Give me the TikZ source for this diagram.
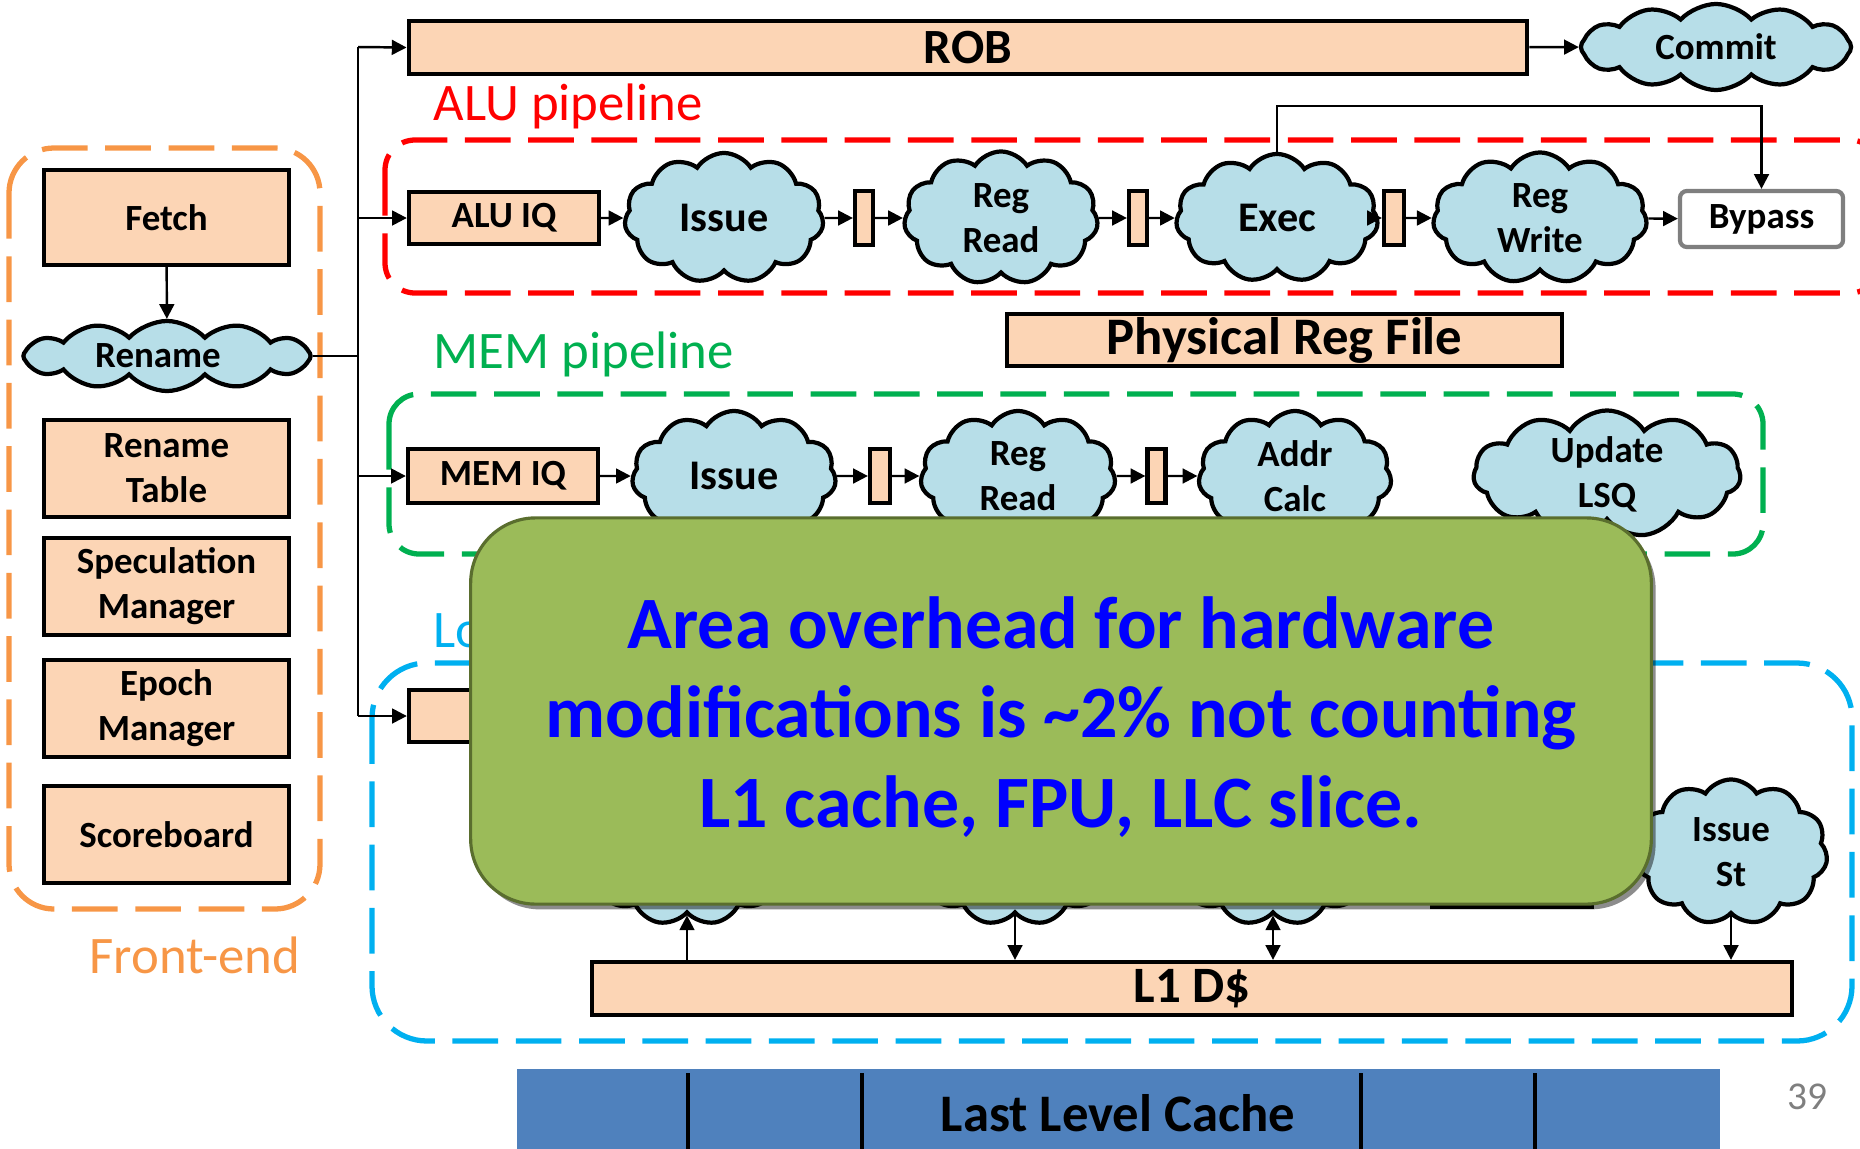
\documentclass[tikz,border=0pt]{standalone}
\usepackage{fontspec}
\setmainfont{Carlito}
\usetikzlibrary{shapes.symbols,arrows.meta,shadows}

\definecolor{peach}{HTML}{FCD5B5}
\definecolor{cloudblue}{HTML}{B7DEE8}
\definecolor{feorange}{HTML}{F79646}
\definecolor{alured}{HTML}{FF0000}
\definecolor{memgreen}{HTML}{00B050}
\definecolor{lsqblue}{HTML}{00B0F0}
\definecolor{notegreen}{HTML}{9BBB59}
\definecolor{noteedge}{HTML}{5A6E2E}
\definecolor{notetext}{HTML}{0000FF}
\definecolor{llcblue}{HTML}{4F81BD}
\definecolor{pagegray}{HTML}{7F7F7F}

\tikzset{
  unitbox/.style={draw=black, line width=1.2pt, fill=peach, inner sep=0pt,
    align=center, font=\bfseries\fontsize{10.5}{12.8}\selectfont},
  latchbox/.style={draw=black, line width=1.2pt, fill=peach, inner sep=0pt,
    minimum width=0.18cm, minimum height=0.54cm},
  stage/.style={cloud, cloud puffs=11, cloud puff arc=115, cloud ignores aspect,
    draw=black, line width=1.2pt, fill=cloudblue, inner sep=0pt},
  flatstage/.style={stage, cloud puffs=12, cloud puff arc=95},
  stagetxt/.style={align=center, inner sep=0pt, font=\bfseries\fontsize{10.5}{12.8}\selectfont},
  stagetxtbig/.style={align=center, inner sep=0pt, font=\bfseries\fontsize{12}{14}\selectfont},
  arr/.style={line width=0.7pt, -{Triangle[length=4.2pt,width=4.2pt]}},
  biarr/.style={line width=0.7pt, {Triangle[length=4.2pt,width=4.2pt]}-{Triangle[length=4.2pt,width=4.2pt]}},
  grpframe/.style={line width=1.5pt, dash pattern=on 13pt off 5pt},
  grplabel/.style={inner sep=0pt, anchor=base west, font=\fontsize{15}{18}\selectfont},
}

\begin{document}
\begin{tikzpicture}[x=0.01cm, y=-0.01cm]
\useasboundingbox (0,0) rectangle (1860,1148);

% ---- dashed group frames ----
\draw[grpframe, feorange, rounded corners=0.45cm] (9,148) rectangle (320,909);
\draw[grpframe, alured, rounded corners=0.30cm] (385,140) rectangle (1880,293);
\draw[grpframe, memgreen, rounded corners=0.30cm] (389,394) rectangle (1763,554);
\draw[grpframe, lsqblue, rounded corners=0.55cm] (372,663) rectangle (1852,1041);

% ---- group labels ----
\node[grplabel, text=alured] (alulbl) at (433,120) {ALU pipeline};
\node[grplabel, text=memgreen] (memlbl) at (433,368) {MEM pipeline};
\node[grplabel, text=lsqblue] (lsqlbl) at (433,647) {Load/Store pipeline};
\node[grplabel, text=feorange] (felbl) at (89,973) {Front-end};

% ---- front-end ----
\node[unitbox, minimum width=2.45cm, minimum height=0.95cm] (fetch) at (166.5,217.5) {Fetch};
\node[flatstage, minimum width=2.87cm, minimum height=0.70cm] (rename) at (167,356) {};
\node[stagetxt] (renametxt) at (158,356) {Rename};
\node[unitbox, minimum width=2.45cm, minimum height=0.97cm] (rtable) at (166.5,468.5) {Rename\\Table};
\node[unitbox, minimum width=2.45cm, minimum height=0.97cm] (specmgr) at (166.5,586.5) {Speculation\\Manager};
\node[unitbox, minimum width=2.45cm, minimum height=0.97cm] (epochmgr) at (166.5,708.5) {Epoch\\Manager};
\node[unitbox, minimum width=2.45cm, minimum height=0.97cm] (scoreboard) at (166.5,834.5) {Scoreboard};
\draw[arr] (fetch) -- (rename);

% ---- ROB and commit ----
\node[unitbox, minimum width=11.18cm, minimum height=0.53cm,
      font=\bfseries\fontsize{14}{16}\selectfont] (rob) at (968,47.5) {ROB};
\node[flatstage, minimum width=2.70cm, minimum height=0.86cm,
      label={[stagetxt]center:Commit}] (commit) at (1716,47) {};
\draw[arr] (rob) -- (commit);

% ---- ALU pipeline ----
\node[unitbox, minimum width=1.90cm, minimum height=0.52cm] (aluiq) at (504,218) {ALU IQ};
\node[stage, minimum width=1.99cm, minimum height=1.30cm,
      label={[stagetxtbig]center:Issue}] (aissue) at (724,218) {};
\node[latchbox] (al1) at (864,218) {};
\node[stage, minimum width=1.94cm, minimum height=1.33cm,
      label={[stagetxt]center:Reg\\Read}] (aread) at (1001,218) {};
\node[latchbox] (al2) at (1138,218) {};
\node[stage, minimum width=2.02cm, minimum height=1.28cm,
      label={[stagetxtbig]center:Exec}] (aexec) at (1277,218) {};
\node[latchbox, minimum width=0.20cm] (al3) at (1394,218) {};
\node[stage, minimum width=2.14cm, minimum height=1.31cm,
      label={[stagetxt]center:Reg\\Write}] (awrite) at (1540,218) {};
\node[draw=pagegray, line width=1.2pt, fill=white, rounded corners=0.07cm,
      minimum width=1.63cm, minimum height=0.56cm, inner sep=0pt,
      font=\bfseries\fontsize{10.5}{12.8}\selectfont] (bypass) at (1761.5,219) {Bypass};
\draw[arr] (aluiq) -- (aissue);
\draw[arr] (aissue) -- (al1);
\draw[arr] (al1) -- (aread);
\draw[arr] (aread) -- (al2);
\draw[arr] (al2) -- (aexec);
\draw[arr] (aexec) -- (al3);
\draw[arr] (al3) -- (awrite);
\draw[arr] (awrite) -- (bypass);
\coordinate (fbtop) at (1276,106);
\draw[arr] (aexec.north) -- (aexec.north |- fbtop) -| (bypass.north);

\node[unitbox, minimum width=5.55cm, minimum height=0.52cm,
      font=\bfseries\fontsize{15}{17}\selectfont] (prf) at (1284.5,340) {Physical Reg File};

% ---- MEM pipeline ----
\node[unitbox, minimum width=1.90cm, minimum height=0.54cm] (memiq) at (503,476) {MEM IQ};
\node[stage, minimum width=2.04cm, minimum height=1.30cm,
      label={[stagetxtbig]center:Issue}] (missue) at (734,476) {};
\node[latchbox, minimum width=0.20cm] (ml1) at (880,476) {};
\node[stage, minimum width=1.95cm, minimum height=1.30cm,
      label={[stagetxt]center:Reg\\Read}] (mread) at (1018,476) {};
\node[latchbox] (ml2) at (1156.5,476) {};
\node[stage, minimum width=1.93cm, minimum height=1.30cm,
      label={[stagetxt]center:Addr\\Calc}] (maddr) at (1295,476) {};
\node[stage, minimum width=2.67cm, minimum height=1.27cm,
      label={[stagetxt]center:Update\\LSQ}] (mlsq) at (1607,474) {};
\draw[arr] (memiq) -- (missue);
\draw[arr] (missue) -- (ml1);
\draw[arr] (ml1) -- (mread);
\draw[arr] (mread) -- (ml2);
\draw[arr] (ml2) -- (maddr);

% ---- load/store pipeline ----
\node[unitbox, minimum width=1.90cm, minimum height=0.52cm] (lsq) at (504,716) {};
\node[stage, minimum width=2.00cm, minimum height=1.30cm] (ls1) at (687,860) {};
\node[stage, minimum width=2.00cm, minimum height=1.30cm] (ls2) at (1015,860) {};
\node[stage, minimum width=2.00cm, minimum height=1.30cm] (ls3) at (1273,860) {};
\node[unitbox, minimum width=1.60cm, minimum height=0.66cm] (lsbox) at (1512,874) {};
\node[stage, minimum width=1.93cm, minimum height=1.45cm,
      label={[stagetxt]center:Issue\\St}] (issuest) at (1731,852) {};
\node[unitbox, minimum width=12.00cm, minimum height=0.53cm,
      font=\bfseries\fontsize{14.5}{16}\selectfont] (l1d) at (1192,988.5) {L1 D\$};
\draw[arr] (l1d.north -| ls1.south) -- (ls1.south);
\draw[arr] (ls2.south) -- (l1d.north -| ls2.south);
\draw[biarr] (ls3.south) -- (l1d.north -| ls3.south);
\draw[arr] (issuest.south) -- (l1d.north -| issuest.south);

% ---- dispatch bus ----
\coordinate (bustop) at (358,47);
\coordinate (busbot) at (358,716);
\draw[line width=0.7pt] (rename.east) -- (rename.east -| bustop);
\draw[line width=0.7pt] (bustop) -- (busbot);
\draw[arr] (bustop) -- (rob.west);
\draw[arr] (bustop |- aluiq) -- (aluiq.west);
\draw[arr] (bustop |- memiq) -- (memiq.west);
\draw[arr] (busbot) -- (lsq.west);

% ---- callout ----
\node[draw=noteedge, line width=0.9pt, fill=notegreen, rounded corners=0.65cm,
      minimum width=11.80cm, minimum height=3.86cm, inner sep=0pt,
      drop shadow={shadow xshift=1.2pt, shadow yshift=-1.5pt, fill=black, opacity=0.45}]
      (note) at (1061,711) {};
\node[text=notetext, align=center, inner sep=0pt,
      font=\bfseries\fontsize{21}{25.4}\selectfont] (notetxt) at (1061,717)
      {Area overhead for hardware\\modifications is \textasciitilde2\% not counting\\L1 cache, FPU, LLC slice.};

% ---- last level cache ----
\fill[llcblue] (517,1069) rectangle (1720,1160);
\foreach \dx in {688,862,1361,1535}
  \draw[line width=1.3pt] (\dx,1073) -- (\dx,1160);
\node[inner sep=0pt, font=\bfseries\fontsize{15}{17}\selectfont] (llc) at (1118,1113) {Last Level Cache};

\node[inner sep=0pt, text=pagegray, font=\fontsize{11.2}{13}\selectfont] (pagenum) at (1807,1097) {39};
\end{tikzpicture}
\end{document}
